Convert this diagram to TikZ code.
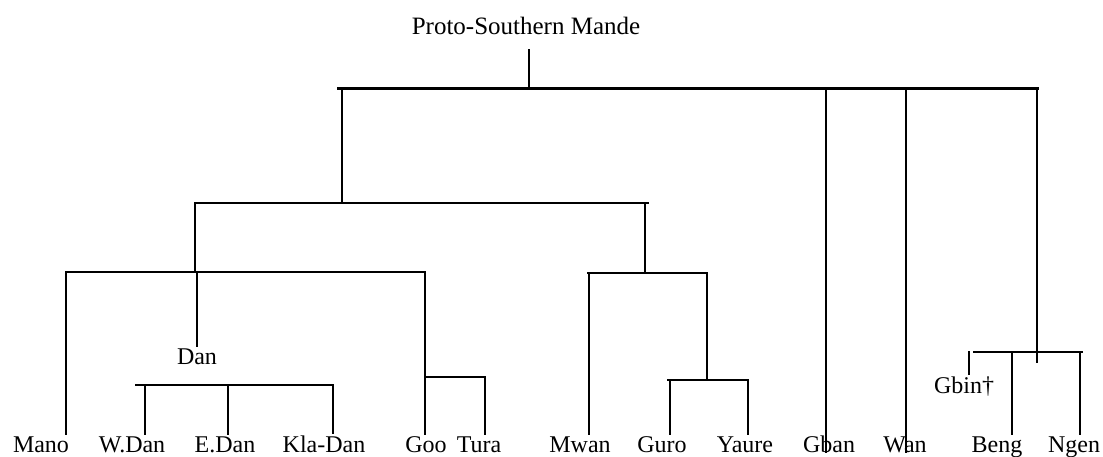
\documentclass[tikz,border=0pt]{standalone}
\usepackage{fontspec}
\setmainfont{Liberation Serif}
\begin{document}
\begin{tikzpicture}[x=1pt,y=-1pt,
  lang/.style={font=\fontsize{24}{28}\selectfont, inner sep=2pt, anchor=base},
  branch/.style={line width=2.1pt, line cap=rect},
  trunk/.style={line width=3pt}]
\useasboundingbox (0,0) rectangle (1103,457);
% labels
\node[lang, font=\fontsize{25}{30}\selectfont] (title) at (526,35) {Proto-Southern Mande};
\node[lang] (Mano) at (41,452) {Mano};
\node[lang] (WDan) at (132,452) {W.Dan};
\node[lang] (EDan) at (225,452) {E.Dan};
\node[lang] (KlaDan) at (324,452) {Kla-Dan};
\node[lang] (Goo) at (426,452) {Goo};
\node[lang] (Tura) at (479,452) {Tura};
\node[lang] (Mwan) at (580,452) {Mwan};
\node[lang] (Guro) at (662,452) {Guro};
\node[lang] (Yaure) at (745,452) {Yaure};
\node[lang] (Gban) at (829,452) {Gban};
\node[lang] (Wan) at (905,452) {Wan};
\node[lang] (Beng) at (997,452) {Beng};
\node[lang] (Ngen) at (1074,452) {Ngen};
\node[lang] (Dan) at (197,364) {Dan};
\node[lang] (Gbin) at (964,393) {Gbin†};
% root
\coordinate (rtop) at (529,50);
\coordinate (rbar) at (529,89);
\draw[branch] (rtop) -- (rbar);
\coordinate (tL) at (337,89);
\coordinate (tR) at (1039,89);
\draw[trunk] (tL) -- (tR);
% top-level branches
\coordinate (a1) at (342,89);
\coordinate (a2) at (342,203);
\draw[branch] (a1) -- (a2);
\coordinate (gbt) at (826,89);
\draw[branch] (gbt) -- (gbt |- Gban.base);
\coordinate (wt) at (906,89);
\draw[branch] (wt) -- (wt |- Wan.base);
\coordinate (rt) at (1037,89);
\coordinate (rb) at (1037,362);
\draw[branch] (rt) -- (rb);
% right group
\coordinate (rgL) at (974,352);
\coordinate (rgR) at (1082,352);
\draw[branch] (rgL) -- (rgR);
\coordinate (be) at (1012,352);
\draw[branch] (be) -- (be |- Beng.north);
\coordinate (ng) at (1080,352);
\draw[branch] (ng) -- (ng |- Ngen.north);
\coordinate (gb) at (969,352);
\draw[branch] (gb) -- (gb |- Gbin.north);
% second level
\coordinate (b2L) at (195,203);
\coordinate (b2R) at (648,203);
\draw[branch] (b2L) -- (b2R);
\coordinate (b2a) at (195,272);
\draw[branch] (b2L) -- (b2a);
\coordinate (b2bt) at (645,203);
\coordinate (b2bb) at (645,273);
\draw[branch] (b2bt) -- (b2bb);
% Mano-Dan-Goo group
\coordinate (g1L) at (66,272);
\coordinate (g1R) at (425,272);
\draw[branch] (g1L) -- (g1R);
\draw[branch] (g1L) -- (g1L |- Mano.north);
\coordinate (dj) at (197,272);
\draw[branch] (dj) -- (dj |- Dan.north);
\draw[branch] (g1R) -- (g1R |- Goo.north);
\coordinate (gtL) at (425,377);
\coordinate (gtR) at (485,377);
\draw[branch] (gtL) -- (gtR);
\draw[branch] (gtR) -- (gtR |- Tura.north);
% Dan group
\coordinate (dL) at (136,385);
\coordinate (dR) at (333,385);
\draw[branch] (dL) -- (dR);
\coordinate (dw) at (145,385);
\draw[branch] (dw) -- (dw |- WDan.north);
\coordinate (de) at (228,385);
\draw[branch] (de) -- (de |- EDan.north);
\draw[branch] (dR) -- (dR |- KlaDan.north);
% Mwan group
\coordinate (mL) at (588,273);
\coordinate (mR) at (707,273);
\draw[branch] (mL) -- (mR);
\coordinate (mw) at (589,273);
\draw[branch] (mw) -- (mw |- Mwan.north);
\coordinate (gyt) at (707,380);
\draw[branch] (mR) -- (gyt);
\coordinate (gyL) at (668,380);
\coordinate (gyR) at (747,380);
\draw[branch] (gyL) -- (gyR);
\coordinate (gu) at (670,380);
\draw[branch] (gu) -- (gu |- Guro.north);
\coordinate (ya) at (748,380);
\draw[branch] (ya) -- (ya |- Yaure.north);
\end{tikzpicture}
\end{document}
